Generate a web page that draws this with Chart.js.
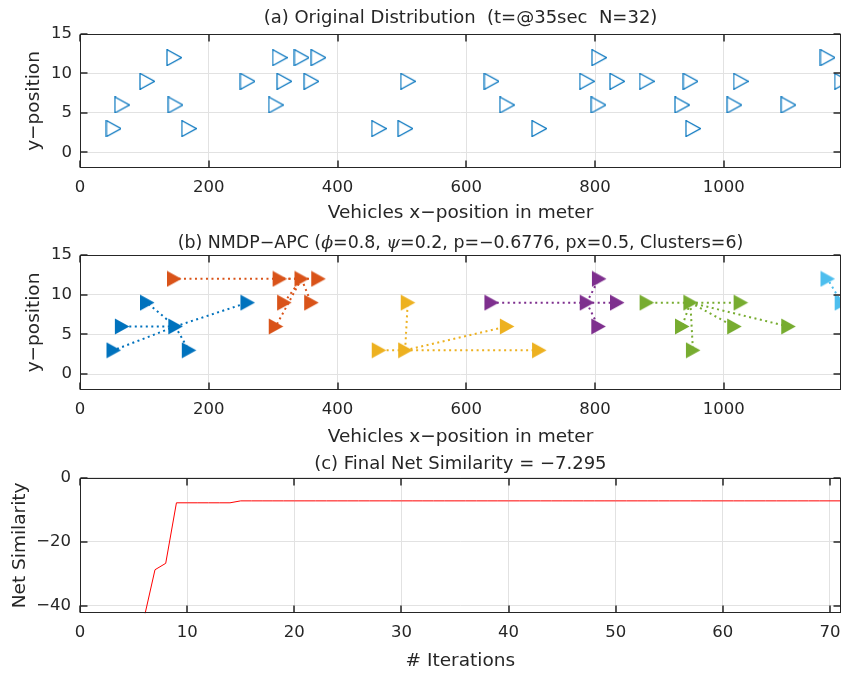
<!DOCTYPE html>
<html>
<head>
<meta charset="utf-8">
<script src="https://cdn.jsdelivr.net/npm/chart.js@4.4.1/dist/chart.umd.min.js"></script>
<style>
  html, body { margin: 0; padding: 0; background: #fff; }
  #wrap { position: relative; width: 850px; height: 675px; }
  canvas { position: absolute; left: 0; }
</style>
</head>
<body>
<div id="wrap">
  <canvas id="orig" width="850" height="225" style="top:0"></canvas>
  <canvas id="apc" width="850" height="225" style="top:225px"></canvas>
  <canvas id="sim" width="850" height="225" style="top:450px"></canvas>
</div>
<script>
// vehicle positions at t = 35 s
const vehicleX = [52, 65, 104, 146, 148, 169, 260, 304, 310, 317, 344, 359, 370, 464, 505, 509,
                  639, 663, 713, 787, 805, 806, 834, 880, 935, 948, 952, 1016, 1026, 1100, 1161, 1183];
const vehicleY = [3, 6, 9, 12, 6, 3, 9, 6, 12, 9, 12, 9, 12, 3, 3, 9,
                  9, 6, 3, 9, 6, 12, 9, 9, 6, 9, 3, 6, 9, 6, 12, 9];
// cluster of each vehicle and the exemplar (cluster head) of each cluster
const clusterOf = [0, 0, 0, 1, 0, 0, 0, 1, 1, 1, 1, 1, 1, 2, 2, 2,
                   3, 2, 2, 3, 3, 3, 3, 4, 4, 4, 4, 4, 4, 4, 5, 5];
const exemplars = [4, 10, 14, 19, 25, 31];
const clusterColors = ['#0072BD', '#D95319', '#EDB120', '#7E2F8E', '#77AC30', '#4DBEEE'];

const posXTicks = [0, 200, 400, 600, 800, 1000];
const posYTicks = [0, 5, 10, 15];

// net similarity per APC iteration
const iterations = [6, 7, 8, 9, 10, 11, 12, 13, 14, 15, 16, 17, 18, 19, 20, 21, 22, 23, 24, 25,
                    26, 27, 28, 29, 30, 31, 32, 33, 34, 35, 36, 37, 38, 39, 40, 41, 42, 43, 44, 45,
                    46, 47, 48, 49, 50, 51, 52, 53, 54, 55, 56, 57, 58, 59, 60, 61, 62, 63, 64, 65,
                    66, 67, 68, 69, 70, 71];
const netSimilarity = [-43.6, -28.8, -26.8, -7.9, -7.9, -7.9, -7.9, -7.9, -7.9, -7.295,
                       -7.295, -7.295, -7.295, -7.295, -7.295, -7.295, -7.295, -7.295, -7.295, -7.295,
                       -7.295, -7.295, -7.295, -7.295, -7.295, -7.295, -7.295, -7.295, -7.295, -7.295,
                       -7.295, -7.295, -7.295, -7.295, -7.295, -7.295, -7.295, -7.295, -7.295, -7.295,
                       -7.295, -7.295, -7.295, -7.295, -7.295, -7.295, -7.295, -7.295, -7.295, -7.295,
                       -7.295, -7.295, -7.295, -7.295, -7.295, -7.295, -7.295, -7.295, -7.295, -7.295,
                       -7.295, -7.295, -7.295, -7.295, -7.295, -7.295];
const iterXTicks = [0, 10, 20, 30, 40, 50, 60, 70];
const iterYTicks = [-40, -20, 0];

const ink = '#262626';
const gridColor = '#e2e2e2';
const sans = '"DejaVu Sans", "Noto Sans", sans-serif';
const tickFont = { family: sans, size: 16.5 };
const labelFont = { family: sans, size: 18.5 };

// right-pointing triangle marker, centred on its bounding box
function triangleMarker(color, filled) {
  const c = document.createElement('canvas');
  c.width = 16; c.height = 17;
  const g = c.getContext('2d');
  g.beginPath();
  g.moveTo(1, 0.5);
  g.lineTo(15.5, 8.5);
  g.lineTo(1, 16.5);
  g.closePath();
  if (filled) {
    g.fillStyle = color;
    g.fill();
  } else {
    g.strokeStyle = color;
    g.lineWidth = 1.2;
    g.stroke();
  }
  return c;
}

const fixedTicks = values => scale => { scale.ticks = values.map(v => ({ value: v })); };
const fmt = v => (v < 0 ? '\u2212' + Math.abs(v) : String(v));

// box around the plot with inward tick marks on all four sides
const frame = {
  id: 'frame',
  afterDatasetsDraw(chart) {
    const { ctx, chartArea: a, scales: { x, y } } = chart;
    const L = Math.round(a.left) + 0.5, R = Math.round(a.right) - 0.5;
    const T = Math.round(a.top) + 0.5, B = Math.round(a.bottom) - 0.5;
    ctx.save();
    ctx.strokeStyle = ink;
    ctx.lineWidth = 1;
    ctx.strokeRect(L, T, R - L, B - T);
    ctx.lineWidth = 1.5;
    ctx.beginPath();
    x.ticks.forEach(t => {
      const px = Math.round(x.getPixelForValue(t.value));
      ctx.moveTo(px, B); ctx.lineTo(px, B - 7);
      ctx.moveTo(px, T); ctx.lineTo(px, T + 7);
    });
    y.ticks.forEach(t => {
      const py = Math.round(y.getPixelForValue(t.value));
      ctx.moveTo(L, py); ctx.lineTo(L + 7, py);
      ctx.moveTo(R, py); ctx.lineTo(R - 7, py);
    });
    ctx.stroke();
    ctx.restore();
  }
};

// title made of runs so the greek letters can be set in italic
const panelTitle = {
  id: 'panelTitle',
  afterDraw(chart, args, opts) {
    const { ctx, chartArea: a } = chart;
    ctx.save();
    ctx.fillStyle = ink;
    ctx.textBaseline = 'middle';
    ctx.textAlign = 'left';
    const runs = opts.runs.map(r => ({ text: r.text, font: r.font || (opts.size + 'px ' + sans) }));
    let total = 0;
    runs.forEach(r => { ctx.font = r.font; r.w = ctx.measureText(r.text).width; total += r.w; });
    let cx = (a.left + a.right) / 2 - total / 2;
    runs.forEach(r => { ctx.font = r.font; ctx.fillText(r.text, cx, opts.y); cx += r.w; });
    ctx.restore();
  }
};

function axes(o) {
  return {
    x: {
      type: 'linear', min: o.xMin, max: o.xMax,
      afterBuildTicks: fixedTicks(o.xTicks),
      afterFit: s => { s.height = o.xHeight; },
      grid: { color: gridColor, drawTicks: false },
      border: { display: false },
      ticks: { padding: o.xTickPad, color: ink, font: tickFont, callback: fmt, maxRotation: 0, autoSkip: false },
      title: { display: true, text: o.xTitle, color: ink, font: labelFont, padding: { top: 0, bottom: o.xTitlePad } }
    },
    y: {
      type: 'linear', min: o.yMin, max: o.yMax,
      afterBuildTicks: fixedTicks(o.yTicks),
      afterFit: s => { s.width = 80; },
      grid: { color: gridColor, drawTicks: false },
      border: { display: false },
      ticks: { padding: o.yTickPad, color: ink, font: tickFont, callback: fmt, autoSkip: false },
      title: { display: true, text: o.yTitle, color: ink, font: labelFont, padding: { top: o.yTitlePad, bottom: 0 } }
    }
  };
}

const baseOptions = (top, title, scales) => ({
  responsive: false,
  animation: false,
  events: [],
  layout: { padding: { top: top, right: 2, left: 0, bottom: 0 } },
  plugins: {
    legend: { display: false },
    tooltip: { enabled: false },
    panelTitle: title
  },
  scales: scales
});

const vehicles = vehicleX.map((x, i) => ({ x: x, y: vehicleY[i] }));

// (a) raw vehicle positions
new Chart(document.getElementById('orig'), {
  type: 'scatter',
  data: {
    datasets: [{
      data: vehicles,
      pointStyle: triangleMarker('#0072BD', false),
      pointRadius: 8,
      clip: 0
    }]
  },
  options: baseOptions(34, { runs: [{ text: '(a) Original Distribution  (t=@35sec  N=32)' }], size: 18, y: 18 }, axes({
    xMin: 0, xMax: 1182, xTicks: posXTicks, xHeight: 57, xTickPad: 10, xTitlePad: 1,
    xTitle: 'Vehicles x\u2212position in meter',
    yMin: -2, yMax: 15, yTicks: posYTicks, yTickPad: 8, yTitlePad: 23,
    yTitle: 'y\u2212position'
  })),
  plugins: [frame, panelTitle]
});

// (b) clusters: markers per cluster, dotted links from each member to its exemplar
const clusterSets = [];
clusterColors.forEach((color, c) => {
  clusterSets.push({
    data: vehicles.filter((p, i) => clusterOf[i] === c),
    pointStyle: triangleMarker(color, true),
    pointRadius: 8,
    clip: 0,
    order: 0
  });
});
vehicles.forEach((p, i) => {
  const head = exemplars[clusterOf[i]];
  if (head === i) return;
  clusterSets.push({
    data: [vehicles[head], p],
    showLine: true,
    borderColor: clusterColors[clusterOf[i]],
    borderWidth: 2,
    borderDash: [2, 3.5],
    pointRadius: 0,
    clip: 0,
    order: 1
  });
});

const italic = 'italic 17.5px "DejaVu Serif", serif';
new Chart(document.getElementById('apc'), {
  type: 'scatter',
  data: { datasets: clusterSets },
  options: baseOptions(30, {
    runs: [
      { text: '(b) NMDP\u2212APC (' },
      { text: '\u03D5', font: italic },
      { text: '=0.8, ' },
      { text: '\u03C8', font: italic },
      { text: '=0.2, p=\u22120.6776, px=0.5, Clusters=6)' }
    ],
    size: 17.4, y: 18
  }, axes({
    xMin: 0, xMax: 1182, xTicks: posXTicks, xHeight: 60, xTickPad: 10, xTitlePad: 2,
    xTitle: 'Vehicles x\u2212position in meter',
    yMin: -2, yMax: 15, yTicks: posYTicks, yTickPad: 8, yTitlePad: 23,
    yTitle: 'y\u2212position'
  })),
  plugins: [frame, panelTitle]
});

// (c) convergence of the net similarity
new Chart(document.getElementById('sim'), {
  type: 'scatter',
  data: {
    datasets: [{
      data: iterations.map((it, i) => ({ x: it, y: netSimilarity[i] })),
      showLine: true,
      borderColor: '#ff0000',
      borderWidth: 1,
      pointRadius: 0,
      clip: 0
    }]
  },
  options: baseOptions(27.5, { runs: [{ text: '(c) Final Net Similarity = \u22127.295' }], size: 18, y: 14 }, axes({
    xMin: 0, xMax: 71, xTicks: iterXTicks, xHeight: 61.7, xTickPad: 9.5, xTitlePad: 3,
    xTitle: '# Iterations',
    yMin: -42.4, yMax: 0, yTicks: iterYTicks, yTickPad: 9, yTitlePad: 9,
    yTitle: 'Net Similarity'
  })),
  plugins: [frame, panelTitle]
});
</script>
</body>
</html>
